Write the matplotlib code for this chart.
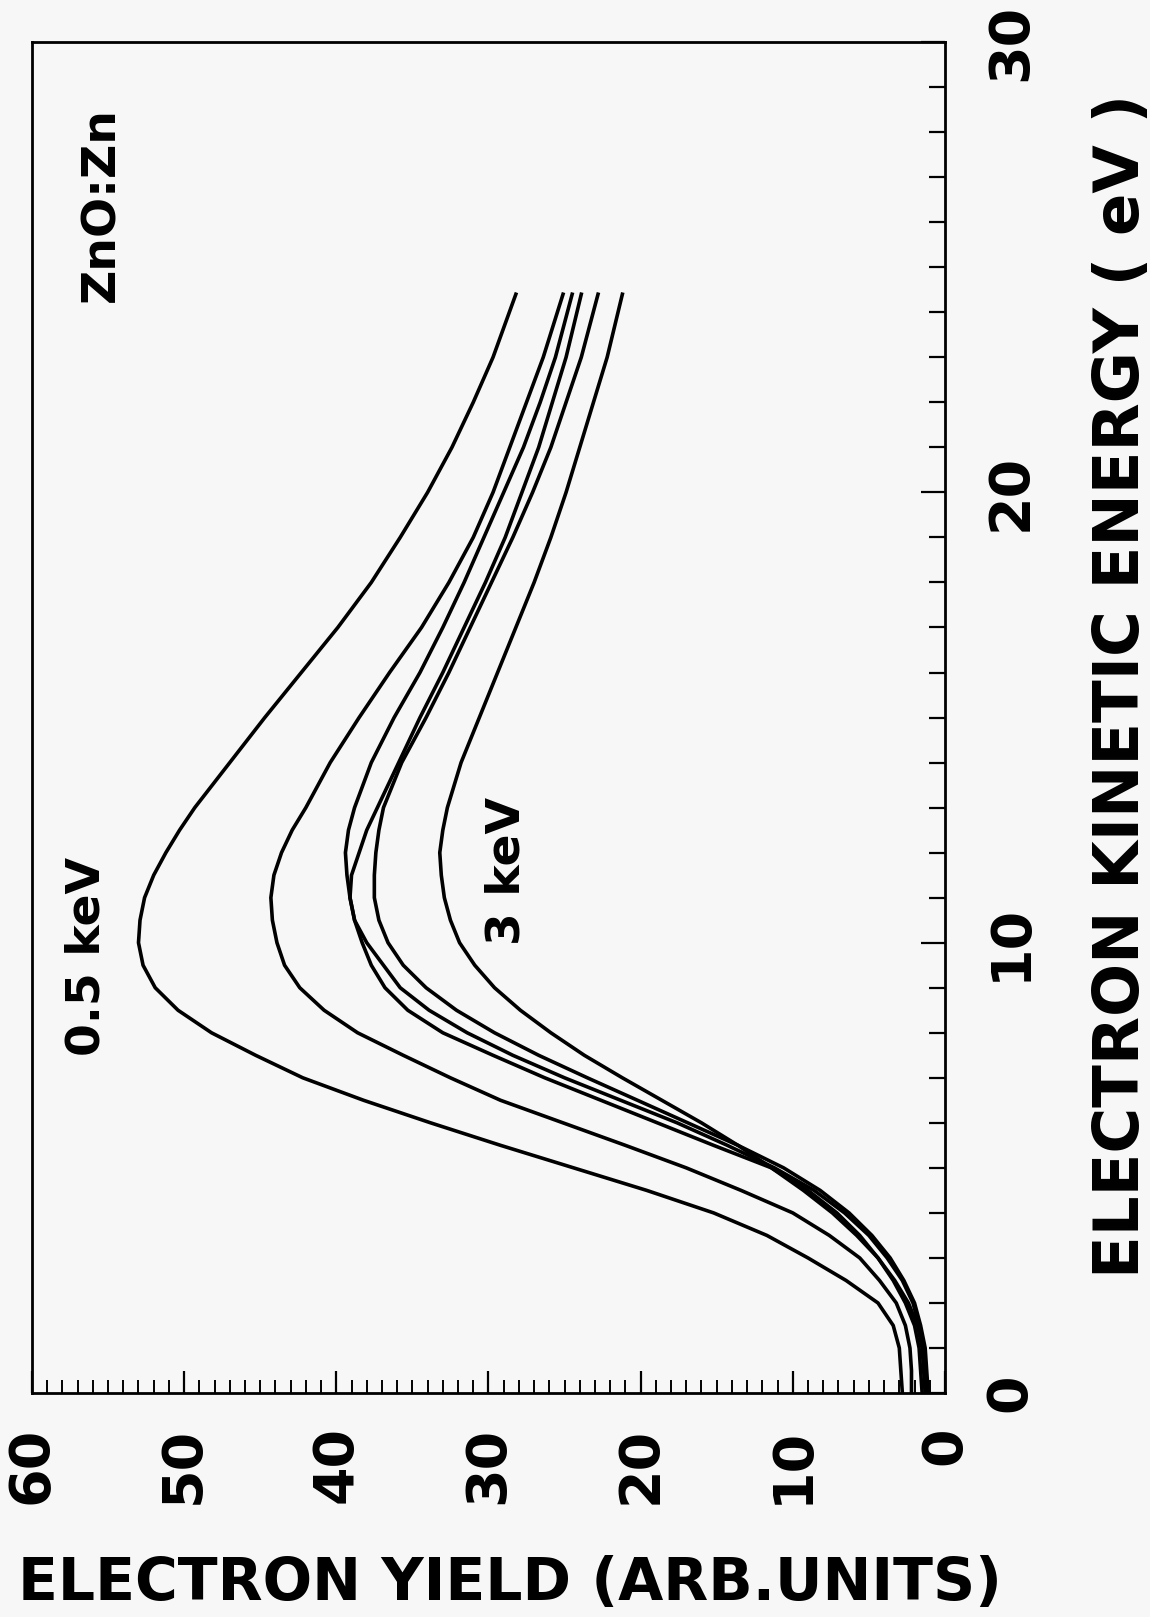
# Electron yield vs kinetic energy for ZnO:Zn, drawn rotated like the scanned page
# (energy runs up the page, yield runs right-to-left).

import matplotlib
matplotlib.use('Agg')
import matplotlib.pyplot as plt
from matplotlib.ticker import MultipleLocator

# kinetic energy grid (eV)
energy = [0, 0.5, 1, 1.5, 2, 2.5, 3, 3.5, 4, 4.5, 5, 5.5, 6, 6.5, 7, 7.5, 8, 8.5, 9, 9.5,
          10, 10.5, 11, 11.5, 12, 12.5, 13, 14, 15, 16, 17, 18, 19, 20, 21, 22, 23, 24.4]

# electron yield (arb. units) for each primary beam energy
yield_05kev = [2.8, 2.9, 3.0, 3.4, 4.4, 6.5, 9.0, 11.7, 15.2, 19.6, 24.4, 29.2, 33.8, 38.2, 42.2, 45.3, 48.2, 50.4, 51.9, 52.7,
               53.0, 52.9, 52.6, 52.0, 51.2, 50.3, 49.3, 47.0, 44.7, 42.3, 39.9, 37.7, 35.8, 34.0, 32.4, 31.0, 29.7, 28.2]
yield_b = [2.2, 2.2, 2.3, 2.6, 3.2, 4.3, 5.6, 7.6, 10.0, 13.4, 17.0, 21.0, 25.1, 29.2, 32.5, 35.6, 38.6, 40.8, 42.4, 43.4,
           43.9, 44.2, 44.3, 44.1, 43.6, 42.9, 42.0, 40.4, 38.5, 36.5, 34.4, 32.6, 31.0, 29.7, 28.6, 27.5, 26.4, 25.1]
yield_c = [1.5, 1.6, 1.7, 2.0, 2.6, 3.4, 4.4, 5.6, 7.1, 9.0, 11.4, 15.2, 18.9, 22.6, 26.3, 29.7, 33.0, 35.3, 36.8, 37.7,
           38.3, 38.8, 39.1, 39.3, 39.4, 39.2, 38.8, 37.7, 36.2, 34.5, 33.0, 31.6, 30.3, 29.0, 27.7, 26.6, 25.6, 24.5]
yield_d = [1.2, 1.3, 1.4, 1.7, 2.1, 2.8, 3.8, 5.0, 6.6, 8.6, 11.2, 14.3, 17.6, 21.3, 25.0, 28.4, 31.4, 33.9, 35.8, 36.9,
           38.0, 38.8, 39.1, 39.0, 38.5, 38.0, 37.3, 35.9, 34.5, 33.0, 31.6, 30.2, 28.9, 27.8, 26.7, 25.8, 24.9, 23.9]
yield_e = [1.1, 1.2, 1.3, 1.6, 2.0, 2.7, 3.6, 4.8, 6.3, 8.2, 10.6, 13.6, 16.9, 20.2, 23.5, 26.7, 29.6, 32.1, 34.1, 35.6,
           36.6, 37.2, 37.5, 37.5, 37.4, 37.2, 36.9, 35.7, 34.1, 32.6, 31.2, 29.8, 28.4, 27.1, 25.9, 24.9, 23.9, 22.8]
yield_3kev = [1.3, 1.4, 1.5, 1.8, 2.4, 3.3, 4.4, 5.8, 7.4, 9.3, 11.4, 13.6, 16.0, 18.6, 21.2, 23.7, 25.9, 27.9, 29.6, 30.9,
              31.9, 32.5, 32.9, 33.1, 33.2, 33.0, 32.7, 31.8, 30.6, 29.4, 28.2, 27.0, 25.9, 24.9, 24.0, 23.1, 22.2, 21.2]

curves = [yield_05kev, yield_b, yield_c, yield_d, yield_e, yield_3kev]

plt.rcParams['font.family'] = ['DejaVu Sans']
plt.rcParams['font.weight'] = 'bold'

bg = '#f7f7f7'
fig = plt.figure(figsize=(11.5, 16.17), dpi=100, facecolor=bg)
ax = fig.add_axes([0.0278, 0.1385, 0.7939, 0.8355], facecolor=bg)

# yield on the horizontal axis (60 on the left), energy going up
for y in curves:
    ax.plot(y, energy, color='black', linewidth=2.6, solid_joinstyle='round')

ax.set_xlim(60, 0)
ax.set_ylim(0, 30)

ax.xaxis.set_major_locator(MultipleLocator(10))
ax.xaxis.set_minor_locator(MultipleLocator(1))
ax.yaxis.set_major_locator(MultipleLocator(10))
ax.yaxis.set_minor_locator(MultipleLocator(1))

for s in ax.spines.values():
    s.set_linewidth(2.0)

ax.tick_params(axis='x', which='both', direction='in', bottom=True, top=False)
ax.tick_params(axis='x', which='major', length=16, width=1.6, pad=24, labelsize=40)
ax.tick_params(axis='x', which='minor', length=9.5, width=1.4)
ax.tick_params(axis='y', which='both', direction='in', left=False, right=True,
               labelleft=False, labelright=True)
ax.tick_params(axis='y', which='major', length=17, width=1.6, pad=28, labelsize=40)
ax.tick_params(axis='y', which='minor', length=11.5, width=1.6)

for lab in ax.get_xticklabels():
    lab.set_rotation(90)
for lab in ax.get_yticklabels():
    lab.set_rotation(90)
    lab.set_verticalalignment('center')

# annotations
ax.text(56.4, 9.7, '0.5 keV', rotation=90, ha='center', va='center', fontsize=34, fontweight='bold')
ax.text(28.8, 11.6, '3 keV', rotation=90, ha='center', va='center', fontsize=34, fontweight='bold')
ax.text(55.4, 26.4, 'ZnO:Zn', rotation=90, ha='center', va='center', fontsize=34, fontweight='bold')

# axis titles
fig.text(0.9757, 0.5757, 'ELECTRON KINETIC ENERGY ( eV )', rotation=90,
         ha='center', va='center', fontsize=45, fontweight='bold')
fig.text(0.4437, 0.021, 'ELECTRON YIELD (ARB.UNITS)', ha='center', va='center',
         fontsize=42, fontweight='bold')

fig.savefig('out.png', dpi=100, facecolor=bg)
